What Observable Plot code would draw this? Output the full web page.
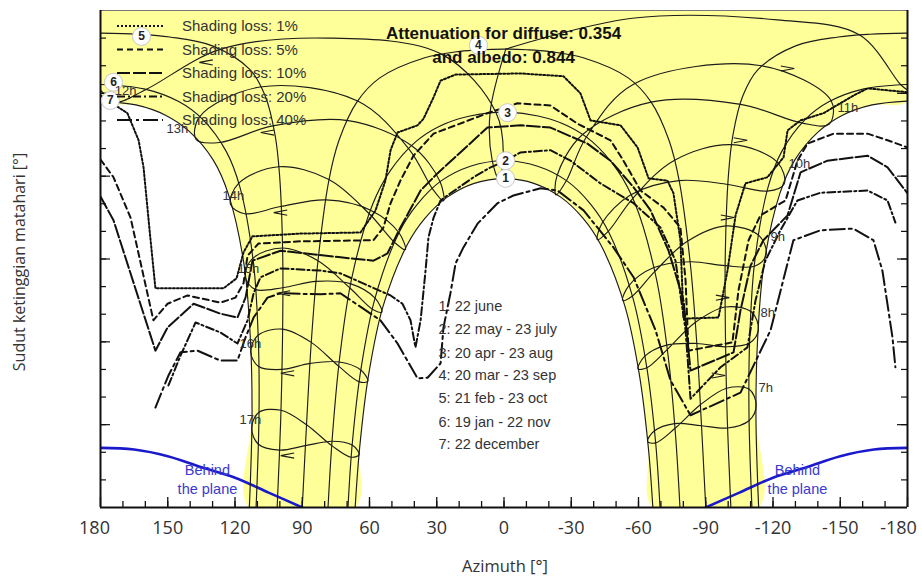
<!DOCTYPE html>
<html><head><meta charset="utf-8">
<script src="https://cdn.jsdelivr.net/npm/d3@7"></script>
<script src="https://cdn.jsdelivr.net/npm/@observablehq/plot@0.6"></script>
<style>
body{margin:0;background:#fff;}
#chart{position:relative;width:922px;height:579px;}
</style></head><body><div id="chart"></div>
<script>
// ---------- data: [azimuth °, sun height °] ----------
const date1 = [[-66.4,0],[-64.4,10.8],[-60.4,24.0],[-53.9,36.5],[-43.0,47.7],[-35.2,52.4],[-25.3,56.2],[-13.3,58.7],[0,59.56],[13.3,58.7],[25.3,56.2],[35.2,52.4],[43.0,47.7],[53.9,36.5],[60.4,24.0],[64.4,10.8],[66.4,0]];
const date2 = [[-69.6,0],[-67.7,11.5],[-63.8,25.1],[-57.4,38.1],[-46.7,49.9],[-38.7,54.9],[-28.2,59.1],[-15.0,61.8],[0,62.8],[15.0,61.8],[28.2,59.1],[38.7,54.9],[46.7,49.9],[57.4,38.1],[63.8,25.1],[67.7,11.5],[69.6,0]];
const date3 = [[-78.5,0],[-76.5,13.2],[-73.2,27.5],[-67.9,41.6],[-58.6,54.9],[-50.7,61.0],[-39.2,66.3],[-28.5,69.1],[-15.2,70.9],[0,71.6],[15.2,70.9],[28.5,69.1],[39.2,66.3],[50.7,61.0],[58.6,54.9],[67.9,41.6],[73.2,27.5],[76.5,13.2],[78.5,0]];
const date4 = [[-90,0],[-88.1,14.9],[-86.0,29.8],[-83.0,44.6],[-78.1,59.3],[-73.6,66.5],[-65.5,73.5],[-55.4,77.8],[-35.7,81.4],[-19.7,82.6],[-10.1,82.9],[0,83.0],[10.1,82.9],[19.7,82.6],[35.7,81.4],[55.4,77.8],[65.5,73.5],[73.6,66.5],[78.1,59.3],[83.0,44.6],[86.0,29.8],[88.1,14.9],[90,0]];
const date5PM = [[180,85.9],[163.3,85.7],[149.1,85.2],[130.1,83.6],[113.3,79.3],[106.6,74.6],[102.1,67.4],[100.1,60.1],[98.7,45.4],[98.8,30.7],[99.6,16.0],[101.2,0]];
const date5AM = [[-180,85.9],[-163.3,85.7],[-149.1,85.2],[-130.1,83.6],[-113.3,79.3],[-106.6,74.6],[-102.1,67.4],[-100.1,60.1],[-98.7,45.4],[-98.8,30.7],[-99.6,16.0],[-101.2,0]];
const date6PM = [[180,76.6],[160.6,75.8],[145.1,73.5],[134.2,70.2],[123.8,64.4],[117.8,58.0],[111.8,44.4],[109.6,30.5],[109.3,16.5],[110.6,0]];
const date6AM = [[-180,76.6],[-160.6,75.8],[-145.1,73.5],[-134.2,70.2],[-123.8,64.4],[-117.8,58.0],[-111.8,44.4],[-109.6,30.5],[-109.3,16.5],[-110.6,0]];
const date7PM = [[180,73.6],[164.2,72.9],[150.8,71.0],[140.4,68.1],[129.7,62.9],[123.0,56.8],[115.9,43.8],[113.1,30.2],[112.4,16.5],[113.6,0]];
const date7AM = [[-180,73.6],[-164.2,72.9],[-150.8,71.0],[-140.4,68.1],[-129.7,62.9],[-123.0,56.8],[-115.9,43.8],[-113.1,30.2],[-112.4,16.5],[-113.6,0]];

// hour lines (legal time), points Jun, Jul, Aug, Sep, Oct, Nov, Dec, Jan, Feb, Mar, Apr, May
const hour7  = [[-64.05,11.95],[-67.65,11.7],[-76.2,14.3],[-87.6,18.6],[-99.3,21.6],[-109.4,21.4],[-112.5,18.5],[-109.4,15.75],[-99.8,14.4],[-88.1,14.8],[-76.05,15.2],[-67.0,13.85]];
const hour8  = [[-59.8,25.1],[-63.7,25.3],[-72.8,28.6],[-85.3,33.5],[-98.8,36.3],[-110.4,35.4],[-113.5,32.2],[-109.6,29.8],[-98.9,29.1],[-86.0,29.7],[-72.5,29.4],[-62.7,27.35]];
const hour9  = [[-52.95,37.5],[-57.3,38.3],[-67.2,42.7],[-81.8,48.2],[-99.2,51.0],[-113.9,49.2],[-116.9,45.7],[-111.7,43.7],[-98.7,43.8],[-83.0,44.5],[-66.6,43.4],[-55.55,40.1]];
const hour10 = [[-41.65,48.5],[-46.5,50.0],[-57.3,55.9],[-75.9,62.85],[-101.6,65.7],[-122.0,62.5],[-125.0,58.6],[-117.5,57.3],[-99.95,58.5],[-78.1,59.2],[-56.4,56.6],[-43.9,51.6]];
const hour11 = [[-23.2,56.6],[-27.85,59.2],[-36.6,67.0],[-58.0,76.7],[-114.9,80.0],[-146.0,73.6],[-145.0,69.4],[-133.1,69.6],[-105.6,73.0],[-65.6,73.4],[-34.8,67.45],[-23.6,60.0]];
const hour12a = [[-0.8,83.0],[6.2,71.5],[5.2,62.7],[2.3,59.5],[0.4,62.8],[3.6,71.55],[27.9,82.1],[78.6,85.0],[126.3,83.0],[159.7,75.7],[173.0,73.45],[180,75.6]];
const hour12b = [[-180,75.6],[-176.9,76.6],[-158.5,85.6],[-121.9,88.3],[-57.2,88.6],[-0.8,83.0]];
const hour13 = [[27.0,55.5],[28.5,59.0],[41.0,65.45],[69.5,70.05],[103.15,69.1],[126.85,66.1],[137.3,66.6],[135.9,70.7],[108.8,76.15],[65.3,73.6],[42.3,64.85],[31.8,57.65]];
const hour14 = [[44.0,46.7],[46.85,49.75],[59.3,53.8],[79.3,55.7],[99.6,54.5],[115.7,53.2],[122.0,54.9],[118.4,58.7],[100.5,61.7],[78.1,59.4],[59.9,53.1],[48.55,47.9]];
const hour15 = [[54.5,35.4],[57.5,37.9],[68.3,40.5],[83.7,40.95],[98.7,39.8],[111.0,39.5],[115.5,41.8],[112.1,45.1],[98.85,47.0],[83.0,44.7],[68.6,39.7],[58.5,35.85]];
const hour16 = [[60.75,22.85],[63.85,24.9],[73.5,26.35],[86.5,26.1],[99.1,25.0],[109.5,25.55],[113.0,28.2],[109.7,31.2],[98.8,32.3],[86.0,29.9],[73.65,25.55],[64.5,22.75]];
const hour17 = [[64.6,9.6],[67.75,11.3],[76.7,12.0],[88.6,11.2],[100.2,10.4],[109.7,11.5],[112.55,14.5],[109.3,17.25],[99.5,17.6],[88.1,15.0],[76.8,11.2],[68.1,9.1]];

// iso-shading loss curves
const shade1 = [[180,74.6],[168.0,71.4],[163.0,66.5],[160.8,61.6],[158.1,50.2],[155.5,39.7],[125.1,39.7],[119.3,41.5],[116.2,46.2],[112.2,49.1],[90.8,49.6],[64.0,49.8],[57.3,53.8],[52.9,59.2],[50.6,64.7],[47.5,67.9],[38.6,69.2],[35.9,70.4],[31.4,74.3],[28.3,77.3],[21.6,78.4],[-7.4,78.6],[-26.5,78.1],[-34.1,75.0],[-38.6,70.1],[-52.0,69.2],[-59.6,65.2],[-64.5,59.6],[-72.9,59.2],[-75.6,56.9],[-78.7,48.4],[-80.1,34.2],[-95.7,34.4],[-99.7,42.9],[-103.3,52.9],[-107.7,58.7],[-117.5,59.8],[-124.7,63.4],[-126.5,68.3],[-132.3,70.1],[-142.5,71.4],[-155.9,74.6],[-162.2,75.9],[-180,75.2]];
const shade5 = [[180,63.0],[174.2,59.8],[166.6,52.5],[156.4,33.9],[150.1,36.9],[141.2,38.4],[126.5,37.1],[119.8,38.0],[116.2,40.6],[114.4,45.6],[109.5,47.8],[90.8,48.2],[58.2,48.4],[53.8,50.7],[50.6,55.1],[46.2,59.2],[40.4,63.7],[31.4,67.7],[7.4,71.4],[-6.0,73.2],[-20.7,72.8],[-32.8,69.5],[-47.5,66.5],[-53.3,62.8],[-60.9,57.4],[-71.2,54.3],[-78.7,50.7],[-81.0,41.1],[-82.3,28.4],[-101.9,29.9],[-104.6,39.3],[-109.1,48.4],[-114.4,52.9],[-125.6,55.6],[-130.9,62.8],[-135.4,65.9],[-147.0,67.7],[-162.2,67.7],[-171.1,66.5],[-180,65.2]];
const shade10 = [[180,56.3],[174.2,52.0],[155.5,28.4],[150.1,32.6],[138.5,36.9],[126.5,35.1],[118.9,34.4],[115.3,38.0],[112.2,44.7],[99.7,46.5],[72.9,45.3],[58.2,44.7],[52.0,46.0],[46.2,50.7],[37.2,57.4],[29.7,60.5],[7.4,68.8],[-7.4,69.2],[-20.7,68.8],[-37.2,65.9],[-47.5,62.8],[-57.8,58.0],[-65.4,53.8],[-73.4,46.5],[-80.1,37.5],[-83.2,24.8],[-102.4,28.1],[-105.5,35.7],[-110.0,43.8],[-115.7,48.4],[-126.5,52.9],[-132.3,60.7],[-144.3,62.8],[-162.2,63.7],[-171.1,61.6],[-180,56.9]];
const shade20 = [[149.7,22.1],[144.3,27.5],[137.6,33.5],[126.5,31.7],[118.9,29.7],[114.4,33.9],[111.7,38.8],[108.6,41.7],[99.7,43.3],[81.9,42.9],[73.0,42.4],[50.6,38.4],[45.3,36.9],[41.7,33.9],[39.5,29.0],[37.2,33.9],[35.0,42.9],[33.7,48.9],[31.4,52.5],[28.3,55.6],[23.9,56.9],[13.6,59.8],[6.0,61.6],[-0.7,62.8],[-7.4,64.3],[-20.7,64.7],[-29.7,62.8],[-43.0,58.7],[-57.8,55.1],[-69.8,50.7],[-76.5,44.7],[-81.0,32.1],[-83.2,19.7],[-96.6,25.4],[-108.6,29.0],[-112.2,37.5],[-116.6,44.7],[-123.3,50.2],[-130.9,55.6],[-141.2,57.0],[-162.2,57.4],[-171.1,55.6],[-174.6,51.6]];
const shade40 = [[155.5,18.1],[149.7,23.9],[144.3,28.1],[136.7,28.4],[126.5,26.6],[118.9,26.6],[115.3,30.8],[111.7,34.4],[105.5,38.0],[99.7,38.8],[81.9,38.6],[73.0,38.8],[55.1,33.9],[47.5,29.7],[38.6,23.4],[34.1,23.5],[28.3,26.1],[27.0,32.6],[23.9,38.8],[21.6,44.2],[18.1,47.1],[11.8,51.4],[2.9,55.1],[-4.2,56.5],[-16.3,57.8],[-23.9,57.4],[-35.5,53.8],[-48.8,47.1],[-57.8,41.7],[-67.6,32.1],[-74.3,23.0],[-83.2,16.7],[-105.5,20.8],[-118.9,32.1],[-129.1,48.4],[-141.2,50.2],[-155.9,50.5],[-164.8,48.4],[-168.8,42.9],[-173.3,30.8],[-174.6,25.4]];

// plane limit
const behindL = [[90,0],[105,2.7],[120,5.4],[135,7.3],[150,9.3],[165,10.5],[180,10.8]];
const behindR = [[-90,0],[-105,2.7],[-120,5.4],[-135,7.3],[-150,9.3],[-165,10.5],[-180,10.8]];

// direction arrows on hour loops
const arrowsL = [[132.9,80.6],[105.5,67.9],[99.7,53.4],[98.4,38.8],[96.6,24.3],[96.6,9.4]];
const arrowsR = [[-126.5,79.5],[-105.5,66.5],[-99.7,52.5],[-97.5,38.0],[-95.7,23.9]];

// text content
const xTickLabels = [180,150,120,90,60,30,0,-30,-60,-90,-120,-150,-180];
const xTickInner = [150,120,90,60,30,0,-30,-60,-90,-120,-150];
const dateLegend = ["1: 22 june","2: 22 may - 23 july","3: 20 apr - 23 aug","4: 20 mar - 23 sep","5: 21 feb - 23 oct","6: 19 jan - 22 nov","7: 22 december"];
const shadeLabels = ["Shading loss: 1%","Shading loss: 5%","Shading loss: 10%","Shading loss: 20%","Shading loss: 40%"];
const shadeDash = ["2,2","6,4","13,3","8,3,2,3","15,4,3,4"];
const circleIds = ["1","2","3","4","5","6","7"];
const hourLeft = ["12h","13h","14h","15h","16h","17h"];
const hourRight = ["11h","10h","9h","8h","7h"];

// ---------- drawing ----------
const X = d => d[0], Y = d => d[1];
const ink = "#1c1c1c";
const yellowRing = [...date7PM.slice().reverse(), [180,90], [-180,90], ...date7AM, ...date1];

const chevL = {draw(ctx, size){const r=Math.sqrt(size); ctx.moveTo(r,-0.38*r); ctx.lineTo(-r,0); ctx.lineTo(r,0.38*r);}};
const chevR = {draw(ctx, size){const r=Math.sqrt(size); ctx.moveTo(-r,-0.38*r); ctx.lineTo(r,0); ctx.lineTo(-r,0.38*r);}};

const thin = (data, curve="catmull-rom") => Plot.line(data, {x:X, y:Y, stroke:ink, strokeWidth:1.15, curve, clip:true});
const shade = (data, dash) => Plot.line(data, {x:X, y:Y, stroke:"#111", strokeWidth:2, strokeDasharray:dash, curve:"linear", clip:true});

const circlePos = [[-0.7,59.6],[-0.7,62.8],[-1.6,71.5],[11.4,83.7],[161.7,85.3],[174.2,77.0],[175.6,73.7]];
const hourLeftPos = [[168.8,75.5,"start"],[145.7,68.6,"start"],[120.7,56.5,"end"],[114.0,43.3,"end"],[113.1,29.7,"end"],[113.1,15.9,"end"]];
const hourRightPos = [[-148.8,72.4],[-126.9,62.3],[-118.9,49.1],[-114.4,35.3],[-113.5,21.7]];
const legendAlt = [36.4,32.2,28.0,23.9,19.7,15.5,11.4];
const tickFont = {fontSize:18, fontFamily:"'Open Sans', sans-serif", fill:"#333", frameAnchor:"bottom", lineAnchor:"top", dy:14};

const marks = [
  Plot.line(yellowRing, {x:X, y:Y, fill:"#ffff99", stroke:"none", curve:"catmull-rom-closed", clip:true}),
  Plot.line(behindL, {x:X, y:Y, stroke:"#1a1acc", strokeWidth:2.6, curve:"catmull-rom", clip:true}),
  Plot.line(behindR, {x:X, y:Y, stroke:"#1a1acc", strokeWidth:2.6, curve:"catmull-rom", clip:true}),
  ...[date1,date2,date3,date4,date5PM,date5AM,date6PM,date6AM,date7PM,date7AM].map(d => thin(d)),
  ...[hour7,hour8,hour9,hour10,hour11,hour13,hour14,hour15,hour16,hour17].map(d => thin(d, "catmull-rom-closed")),
  thin(hour12a), thin(hour12b),
  Plot.dot(arrowsL, {x:X, y:Y, symbol:chevL, r:3.8, stroke:ink, strokeWidth:1.1, fill:"none"}),
  Plot.dot(arrowsR, {x:X, y:Y, symbol:chevR, r:3.8, stroke:ink, strokeWidth:1.1, fill:"none"}),
  shade(shade1, shadeDash[0]), shade(shade5, shadeDash[1]), shade(shade10, shadeDash[2]),
  shade(shade20, shadeDash[3]), shade(shade40, shadeDash[4]),
  // frame
  Plot.ruleY([90], {stroke:"#777", strokeWidth:1}),
  Plot.ruleX([180,-180], {stroke:"#111", strokeWidth:2}),
  Plot.ruleY([0], {stroke:"#111", strokeWidth:2}),
  Plot.tickX(d3.range(-170,180,10), {stroke:"#111", strokeWidth:1.3, insetTop:491}),
  Plot.tickX(xTickLabels, {stroke:"#111", strokeWidth:1.3, insetTop:487}),
  Plot.tickY(d3.range(5,90,5), {stroke:"#111", strokeWidth:1.2, insetRight:801}),
  Plot.tickY(d3.range(15,90,15), {stroke:"#111", strokeWidth:1.2, insetRight:797}),
  Plot.tickY(d3.range(5,90,5), {stroke:"#111", strokeWidth:1.2, insetLeft:801}),
  Plot.tickY(d3.range(15,90,15), {stroke:"#111", strokeWidth:1.2, insetLeft:797}),
  // x tick labels
  Plot.text(xTickInner, {x:d => d, text:d => String(d), ...tickFont}),
  Plot.text([180], {x:d => d, text:d => String(d), ...tickFont, dx:-6}),
  Plot.text([-180], {x:d => d, text:d => String(d), ...tickFont, dx:-9}),
  // circle labels
  Plot.dot(circlePos, {x:X, y:Y, r:9, fill:"white", stroke:"#c8c8c8", strokeWidth:1}),
  Plot.text(circlePos, {x:X, y:Y, text:(d,i) => circleIds[i], fontSize:12, fontWeight:"bold", fill:"#222"}),
  // hour labels
  Plot.text(hourLeftPos, {x:X, y:Y, text:(d,i) => hourLeft[i], textAnchor:d => d[2], fontSize:13, fill:"#333"}),
  Plot.text(hourRightPos, {x:X, y:Y, text:(d,i) => hourRight[i], textAnchor:"start", fontSize:13, fill:"#333"}),
  // date legend
  Plot.text(dateLegend, {x:29.2, y:(d,i) => legendAlt[i], text:d => d, textAnchor:"start", fontSize:14.5, fill:"#333"}),
  // attenuation
  Plot.text(["Attenuation for diffuse: 0.354"], {x:0.2, y:85.8, text:d => d, fontSize:17, fontWeight:"bold", fill:"#111"}),
  Plot.text(["and albedo: 0.844"], {x:0.2, y:81.5, text:d => d, fontSize:17, fontWeight:"bold", fill:"#111"}),
  // behind the plane
  Plot.text(["Behind"], {x:132.3, y:6.7, text:d => d, fontSize:14.5, fill:"#3a3ad0"}),
  Plot.text(["the plane"], {x:132.3, y:3.3, text:d => d, fontSize:14.5, fill:"#3a3ad0"}),
  Plot.text(["Behind"], {x:-130.9, y:6.7, text:d => d, fontSize:14.5, fill:"#3a3ad0"}),
  Plot.text(["the plane"], {x:-130.9, y:3.3, text:d => d, fontSize:14.5, fill:"#3a3ad0"})
];

const chart = Plot.plot({
  width: 922, height: 579,
  marginLeft: 100, marginRight: 15, marginTop: 10, marginBottom: 72,
  style: {fontFamily: "'Liberation Sans', Arial, sans-serif", fontSize: "12px", background: "#fff", color: "#222"},
  x: {domain: [180, -180], axis: null},
  y: {domain: [0, 90], axis: null},
  marks
});
document.getElementById("chart").appendChild(chart);

// legend (top-left, inside frame) and axis titles
const svg = d3.select(chart);
const legendY = [26, 49.5, 73, 96.5, 120];
const lg = svg.append("g").attr("font-family", "'Liberation Sans', Arial, sans-serif").attr("font-size", 15).attr("fill", "#333").attr("text-anchor", "start");
shadeLabels.forEach((t, i) => {
  lg.append("line").attr("x1", 117).attr("x2", 163).attr("y1", legendY[i]).attr("y2", legendY[i])
    .attr("stroke", "#111").attr("stroke-width", 2).attr("stroke-dasharray", shadeDash[i]);
  lg.append("text").attr("x", 182).attr("y", legendY[i]).attr("dy", "0.35em").attr("text-anchor", "start").text(t);
});
svg.append("text").attr("x", 505).attr("y", 566).attr("dy", "0.35em").attr("text-anchor", "middle")
  .attr("font-family", "'Open Sans', sans-serif").attr("font-size", 16.5).attr("fill", "#333").text("Azimuth [°]");
svg.append("text").attr("transform", "translate(19,262) rotate(-90)").attr("dy", "0.35em").attr("text-anchor", "middle")
  .attr("font-family", "'Open Sans', sans-serif").attr("font-size", 16).attr("fill", "#333").text("Sudut ketinggian matahari [°]");
</script></body></html>
